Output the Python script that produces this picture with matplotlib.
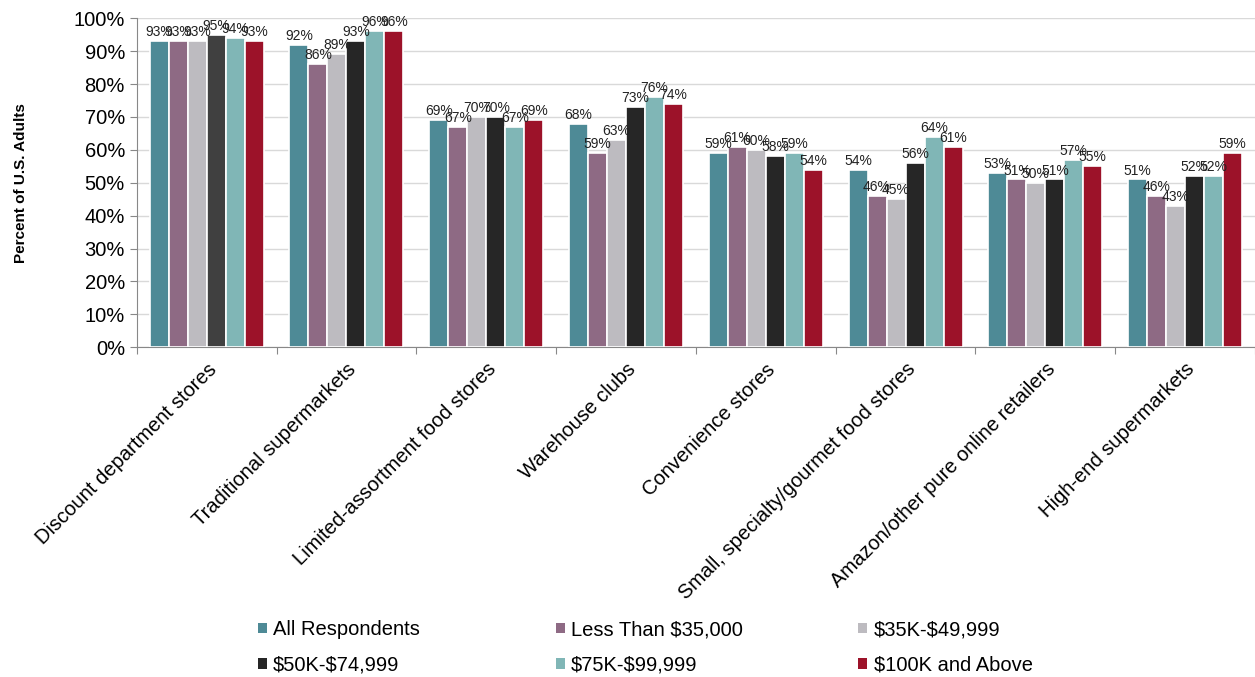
import matplotlib.pyplot as plt
import numpy as np
from matplotlib.patches import Patch

categories = ["Discount department stores", "Traditional supermarkets",
              "Limited-assortment food stores", "Warehouse clubs",
              "Convenience stores", "Small, specialty/gourmet food stores",
              "Amazon/other pure online retailers", "High-end supermarkets"]
series = ["All Respondents", "Less Than \\$35,000", "\\$35K-\\$49,999",
          "\\$50K-\\$74,999", "\\$75K-\\$99,999", "\\$100K and Above"]
values = [
    [93, 92, 69, 68, 59, 54, 53, 51],
    [93, 86, 67, 59, 61, 46, 51, 46],
    [93, 89, 70, 63, 60, 45, 50, 43],
    [95, 93, 70, 73, 58, 56, 51, 52],
    [94, 96, 67, 76, 59, 64, 57, 52],
    [93, 96, 69, 74, 54, 61, 55, 59],
]
colors = ["#4e8a96", "#8e6a84", "#bdbbc0", "#262626", "#80b6b6", "#9c1229"]

plt.rcParams['font.family'] = ['Liberation Sans', 'DejaVu Sans']
fig = plt.figure(figsize=(12.55, 6.77), dpi=100)
ax = fig.add_axes([0.109, 0.487, 0.891, 0.486])

x = np.arange(len(categories))
w = 0.136
for i, (name, vals) in enumerate(zip(series, values)):
    pos = x + (i - 2.5) * w
    bars = ax.bar(pos, vals, w, color=colors[i], edgecolor="white",
                  linewidth=1.2, zorder=3)
    # the first $50K bar is drawn a shade lighter
    if i == 3:
        bars[0].set_facecolor("#404040")
    for p, v in zip(pos, vals):
        ax.text(p, v + 0.6, f"{v}%", ha="center", va="bottom",
                fontsize=10, color="#222222", zorder=4)

ax.set_xlim(-0.5, len(categories) - 0.5)
ax.set_ylim(0, 100)
ax.set_yticks(np.arange(0, 101, 10))
ax.set_yticklabels([f"{t}%" for t in range(0, 101, 10)], fontsize=14.5)
ax.yaxis.grid(True, color="#d9d9d9", linewidth=1, zorder=0)
ax.set_axisbelow(True)

ax.set_xticks(np.arange(-0.5, len(categories)), minor=False)
ax.set_xticklabels([])
ax.set_xticks(x, minor=True)
ax.set_xticklabels(categories, minor=True, rotation=45, ha="right",
                   rotation_mode="anchor", fontsize=14.5)
ax.tick_params(axis="x", which="minor", length=0, pad=9)
ax.tick_params(axis="x", which="major", length=5, color="#888888")
ax.tick_params(axis="y", length=5, color="#888888")

for s in ["top", "right"]:
    ax.spines[s].set_visible(False)
for s in ["left", "bottom"]:
    ax.spines[s].set_color("#888888")

ax.set_ylabel("Percent of U.S. Adults", fontsize=11, fontweight="bold")
ax.yaxis.set_label_coords(-0.097, 0.5)

# one small legend per column so the columns sit at fixed places
handles = [Patch(facecolor=c, edgecolor="none") for c in colors]
col_x = [0.2055, 0.443, 0.684]
for c, lx in enumerate(col_x):
    idx = [c, c + 3]
    leg = fig.legend([handles[k] for k in idx], [series[k] for k in idx],
                     loc="center left", bbox_to_anchor=(lx, 0.044),
                     frameon=False, fontsize=14.5, handlelength=0.45,
                     handleheight=0.45, handletextpad=0.3,
                     labelspacing=0.8, borderpad=0, borderaxespad=0)

fig.savefig("out.png", dpi=100)
